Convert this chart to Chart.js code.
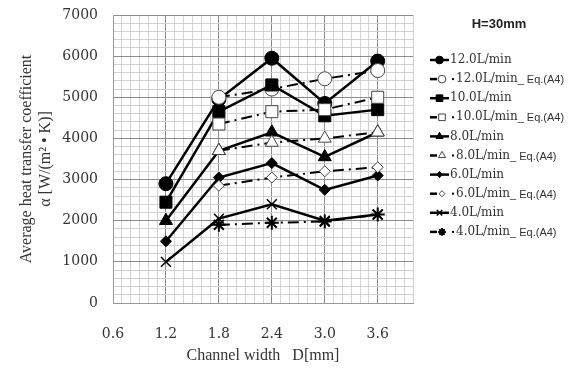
<!DOCTYPE html>
<html>
<head>
<meta charset="utf-8">
<script src="https://cdn.jsdelivr.net/npm/chart.js@4.4.0/dist/chart.umd.min.js"></script>
<style>
  html, body { margin: 0; padding: 0; background: #fff; }
  #wrap { width: 579px; height: 368px; }
</style>
</head>
<body>
<div id="wrap"><canvas id="chart"></canvas></div>
<script>
// channel width D [mm]
const channelWidth = [1.2, 1.8, 2.4, 3.0, 3.6];

// measured values
const flow12 = [2900, 4950, 5950, 4850, 5880];
const flow10 = [2450, 4650, 5300, 4550, 4700];
const flow8  = [2000, 3700, 4150, 3550, 4150];
const flow6  = [1500, 3050, 3400, 2750, 3100];
const flow4  = [1000, 2050, 2400, 2000, 2150];

// Eq.(A4) values (no value at 1.2)
const flow12Eq = [null, 5000, 5200, 5450, 5650];
const flow10Eq = [null, 4350, 4650, 4700, 5000];
const flow8Eq  = [null, 3700, 3900, 4000, 4150];
const flow6Eq  = [null, 2850, 3050, 3200, 3300];
const flow4Eq  = [null, 1900, 1950, 1980, 2150];

const xTickLabels = [0.6, 1.2, 1.8, 2.4, 3.0, 3.6];
const yTickLabels = [0, 1000, 2000, 3000, 4000, 5000, 6000, 7000];

function toPoints(values) {
    return channelWidth
        .map((x, i) => ({ x: x, y: values[i] }))
        .filter(p => p.y !== null);
}

function measured(label, values, style, radius) {
    return {
        label: label,
        eq: false,
        data: toPoints(values),
        borderColor: '#000',
        borderWidth: 2.5,
        pointStyle: style,
        pointRadius: radius,
        pointBackgroundColor: '#000',
        pointBorderColor: '#000',
        pointBorderWidth: style === 'crossRot' ? 1.5 : 1,
        tension: 0
    };
}

function predicted(label, values, style, radius) {
    return {
        label: label,
        eq: true,
        data: toPoints(values),
        borderColor: '#000',
        borderWidth: 2,
        borderDash: [11, 5, 2, 5],
        pointStyle: style,
        pointRadius: radius,
        pointBackgroundColor: '#fff',
        pointBorderColor: style === 'star' ? '#000' : '#444',
        pointBorderWidth: style === 'star' ? 2 : 1,
        tension: 0
    };
}

const datasets = [
    measured('12.0L/min', flow12, 'circle', 7),
    predicted('12.0L/min', flow12Eq, 'circle', 7),
    measured('10.0L/min', flow10, 'rect', 8.5),
    predicted('10.0L/min', flow10Eq, 'rect', 8.5),
    measured('8.0L/min', flow8, 'triangle', 7.5),
    predicted('8.0L/min', flow8Eq, 'triangle', 7.5),
    measured('6.0L/min', flow6, 'rectRot', 5.5),
    predicted('6.0L/min', flow6Eq, 'rectRot', 5.5),
    measured('4.0L/min', flow4, 'crossRot', 7),
    predicted('4.0L/min', flow4Eq, 'star', 7)
];
// later series on top, like the original
datasets.forEach((ds, i) => { ds.order = datasets.length - i; });

function isXMajor(v) {
    return xTickLabels.some(t => Math.abs(t - v) < 1e-6);
}
function isYMajor(v) {
    return yTickLabels.some(t => Math.abs(t - v) < 1e-6);
}

// legend at the right side, line sample + marker like the original
const sideLegend = {
    id: 'sideLegend',
    afterDraw(chart) {
        const ctx = chart.ctx;
        ctx.save();
        ctx.fillStyle = '#222';
        ctx.font = 'bold 13px "Liberation Sans", Arial, sans-serif';
        ctx.textAlign = 'center';
        ctx.textBaseline = 'middle';
        ctx.fillText('H=30mm', 499, 24);

        chart.data.datasets.forEach((ds, i) => {
            const y = 60 + i * 19.1;
            ctx.strokeStyle = '#000';
            ctx.setLineDash([]);
            let markerX, textX;
            if (!ds.eq) {
                ctx.lineWidth = 2.5;
                ctx.beginPath();
                ctx.moveTo(430, y);
                ctx.lineTo(449, y);
                ctx.stroke();
                markerX = 439.5;
                textX = 450;
            } else {
                ctx.lineWidth = 2.5;
                ctx.beginPath();
                ctx.moveTo(430, y);
                ctx.lineTo(437, y);
                ctx.stroke();
                ctx.fillStyle = '#000';
                ctx.fillRect(452, y - 1, 2, 2);
                markerX = 442;
                textX = 456;
            }
            ctx.fillStyle = ds.pointBackgroundColor;
            ctx.strokeStyle = ds.pointBorderColor;
            ctx.lineWidth = ds.pointBorderWidth;
            Chart.helpers.drawPoint(ctx, {
                pointStyle: ds.pointStyle,
                radius: ds.pointRadius * 0.55,
                rotation: 0,
                borderWidth: ds.pointBorderWidth
            }, markerX, y);

            ctx.fillStyle = '#333';
            ctx.textAlign = 'left';
            ctx.font = '12px "DejaVu Serif", serif';
            ctx.fillText(ds.label, textX, y);
            if (ds.eq) {
                const w = ctx.measureText(ds.label).width;
                ctx.font = '11px "Liberation Sans", Arial, sans-serif';
                ctx.fillText('_ Eq.(A4)', textX + w, y + 1);
            }
        });
        ctx.restore();
    }
};

new Chart(document.getElementById('chart'), {
    type: 'line',
    data: { datasets: datasets },
    options: {
        responsive: true,
        maintainAspectRatio: false,
        animation: false,
        layout: { padding: { left: 13, right: 166, top: 15, bottom: 0 } },
        plugins: {
            legend: { display: false },
            tooltip: { enabled: false }
        },
        scales: {
            x: {
                type: 'linear',
                min: 0.6,
                max: 4.0,
                afterFit: function(scale) {
                    scale.height = 65;
                    scale.paddingLeft = 0;
                    scale.paddingRight = 0;
                },
                ticks: {
                    stepSize: 0.1,
                    autoSkip: false,
                    maxRotation: 0,
                    padding: 23,
                    color: '#333',
                    font: { family: '"DejaVu Serif", serif', size: 14 },
                    callback: function(value) {
                        return isXMajor(value) ? value.toFixed(1) : '';
                    }
                },
                grid: {
                    drawTicks: false,
                    color: function(ctx) {
                        return isXMajor(ctx.tick.value) ? '#8c8c8c' : '#d0d0d0';
                    }
                },
                border: { color: '#999' },
                title: {
                    display: true,
                    text: 'Channel width   D[mm]',
                    color: '#333',
                    font: { family: '"Liberation Serif", serif', size: 16 },
                    padding: { top: 0, bottom: 3 }
                }
            },
            y: {
                min: 0,
                max: 7000,
                afterFit: function(scale) {
                    scale.width = 100;
                    scale.paddingTop = 0;
                    scale.paddingBottom = 0;
                },
                ticks: {
                    stepSize: 200,
                    autoSkip: false,
                    padding: 15,
                    color: '#333',
                    font: { family: '"DejaVu Serif", serif', size: 14 },
                    callback: function(value) {
                        return isYMajor(value) ? String(value) : '';
                    }
                },
                grid: {
                    drawTicks: false,
                    color: function(ctx) {
                        return isYMajor(ctx.tick.value) ? '#8c8c8c' : '#d0d0d0';
                    }
                },
                border: { color: '#999' },
                title: {
                    display: true,
                    text: ['Average heat transfer coefficient', 'α [W/(m² • K)]'],
                    color: '#333',
                    font: { family: '"Liberation Serif", serif', size: 16 },
                    padding: { top: 4, bottom: 0 }
                }
            }
        }
    },
    plugins: [sideLegend]
});
</script>
</body>
</html>
